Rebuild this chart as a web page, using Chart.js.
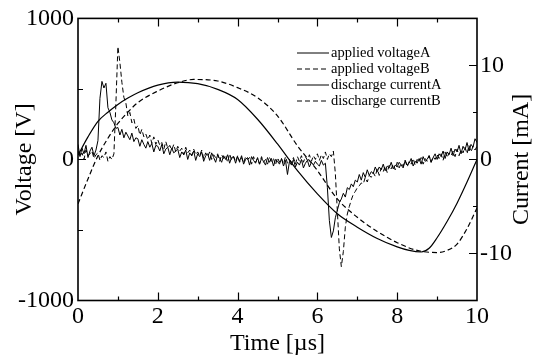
<!DOCTYPE html>
<html>
<head>
<meta charset="utf-8">
<script src="https://cdn.jsdelivr.net/npm/chart.js@4.4.1/dist/chart.umd.min.js"></script>
<style>
  body { margin: 0; background: #fff; }
</style>
</head>
<body>
<canvas id="myChart" width="543" height="359"></canvas>
<script>
// applied voltage, smooth curves [V]
const voltTimeA = [0, 0.25, 0.5, 0.75, 1, 1.25, 1.5, 2, 2.5, 3, 3.5, 4, 4.5, 5, 5.5, 6, 6.5, 7, 7.5, 8, 8.3, 8.6, 8.8, 9, 9.25, 9.5, 9.75, 10];
const voltageA = [30, 160, 270, 335, 390, 435, 473, 527, 548, 537, 497, 425, 285, 110, -80, -244, -385, -480, -560, -620, -645, -656, -630, -555, -440, -310, -160, 0];
const voltTimeB = [0, 0.25, 0.5, 0.75, 1, 1.25, 1.5, 2, 2.5, 2.9, 3.5, 4, 4.5, 5, 5.5, 6, 6.5, 7, 7.5, 8, 8.5, 9, 9.25, 9.5, 9.75, 10];
const voltageB = [-315, -138, 26, 150, 255, 335, 403, 485, 544, 567, 556, 509, 438, 309, 97, -79, -280, -410, -510, -590, -645, -660, -645, -600, -490, -345];

// discharge current [mA], sampled every 0.05 us from 0 to 10
const currentStep = 0.05;
const currentA = [
  1.6, 0.3, 1.2, 0.6, 1.5, 0.2, 0.9, 1.3, 0.4, 1.0,
  2.0, 6.5, 8.3, 7.6, 8.1, 5.5, 5.0, 4.2, 3.9, 3.3,
  3.4, 2.6, 3.2, 2.3, 2.9, 2.5, 2.1, 2.8, 1.9, 2.3,
  2.2, 1.4, 2.1, 1.6, 1.2, 1.9, 1.3, 1.7, 0.8, 1.5,
  1.4, 0.9, 1.6, 0.6, 1.1, 1.3, 0.5, 1.2, 0.7, 0.9,
  1.1, 0.2, 0.8, 0.5, 1.0, 0.0, 0.7, 0.4, 0.9, -0.1,
  0.6, 0.3, 0.8, -0.2, 0.4, 0.6, -0.1, 0.7, 0.2, -0.3,
  0.5, 0.1, -0.3, 0.4, 0.0, 0.5, -0.4, 0.2, 0.3, -0.4,
  0.3, -0.2, 0.4, -0.5, 0.0, 0.2, -0.6, 0.3, -0.1, -0.4,
  0.2, -0.5, 0.1, -0.2, -0.6, 0.2, -0.3, 0.1, -0.7, 0.0,
  -0.2, -0.5, 0.1, -0.7, -0.1, -1.6, -0.2, -0.6, 0.0, -0.8,
  -0.3, -0.6, 0.0, -0.9, -0.4, -0.1, -0.8, -0.3, -0.6, -0.2,
  -0.5, -0.7, -0.1, -0.6, -0.4, -3.0, -6.5, -8.3, -7.6, -6.2,
  -5.4, -4.6, -4.2, -3.6, -4.0, -3.0, -3.2, -2.6, -2.9, -2.2,
  -2.4, -1.6, -2.2, -1.4, -1.9, -1.1, -1.7, -1.3, -1.5, -0.8,
  -1.3, -0.8, -1.1, -0.5, -1.2, -0.7, -0.9, -0.3, -1.0, -0.6,
  -0.8, -0.3, -0.6, -0.9, -0.1, -0.6, -0.4, 0.1, -0.7, -0.2,
  -0.4, 0.1, -0.5, 0.3, -0.2, 0.0, 0.4, -0.3, 0.2, 0.6,
  0.0, 0.6, 0.3, 0.9, 0.1, 0.8, 0.5, 1.2, 0.4, 1.1,
  0.8, 1.5, 0.6, 1.4, 1.0, 1.8, 0.9, 1.6, 1.3, 2.2,
  1.8
];
const currentB = [
  0.9, 0.3, 0.7, 0.0, 1.0, 0.4, 0.6, 0.9, 0.1, 0.5,
  0.7, -0.1, 0.4, 0.2, 0.8, -0.2, 0.3, 0.0, 0.6, 6.0,
  12.0, 10.3, 8.2, 6.6, 6.0, 4.6, 5.0, 3.9, 4.3, 3.3,
  3.6, 2.6, 3.2, 2.4, 2.7, 2.1, 2.6, 1.7, 2.4, 1.6,
  2.1, 1.5, 1.8, 1.1, 1.9, 1.2, 1.5, 1.0, 1.6, 0.8,
  1.4, 0.9, 1.2, 0.5, 1.3, 0.7, 1.0, 0.4, 1.1, 0.5,
  0.8, 0.4, 1.0, 0.1, 0.7, 0.3, 0.8, 0.0, 0.5, 0.2,
  0.6, -0.2, 0.5, 0.1, 0.4, -0.3, 0.6, -0.1, 0.3, -0.2,
  0.4, -0.3, 0.2, -0.4, 0.3, 0.0, 0.2, -0.5, 0.3, -0.3,
  0.1, -0.5, 0.3, -0.3, 0.0, -0.5, 0.2, -0.2, 0.1, -0.6,
  0.2, -0.3, 0.1, -0.5, 0.3, -0.4, 0.0, -0.3, 0.2, -0.5,
  0.3, -0.2, 0.4, -0.3, 0.3, -0.1, 0.5, -0.2, 0.4, 0.0,
  0.6, -0.1, 0.5, 0.1, 0.8, 0.0, 0.6, 0.3, 0.9, -1.5,
  -5.5, -9.5, -11.4, -9.8, -7.2, -5.8, -5.0, -4.3, -3.7, -3.4,
  -3.0, -2.8, -2.5, -2.6, -1.9, -2.4, -1.7, -1.9, -1.4, -1.8,
  -1.0, -1.7, -0.9, -1.3, -0.7, -1.4, -0.6, -1.0, -0.5, -1.1,
  -0.3, -0.9, -0.4, -0.7, -0.1, -0.8, -0.2, -0.5, 0.1, -0.6,
  0.0, -0.3, 0.2, -0.5, 0.1, -0.2, 0.4, -0.3, 0.3, 0.0,
  0.5, 0.1, 0.6, -0.1, 0.8, 0.2, 0.7, 0.4, 0.9, 0.3,
  1.1, 0.4, 1.0, 0.7, 1.3, 0.6, 1.5, 0.8, 1.4, 1.0,
  1.4
];

const seriesLabels = ['applied voltageA', 'applied voltageB', 'discharge currentA', 'discharge currentB'];
const voltageTicks = [-1000, 0, 1000];
const currentTicks = [-10, 0, 10];
const timeMarks = [1, 2, 3, 4, 5, 6, 7, 8, 9];
const voltageMarks = [-500, 0, 500];
const currentMarks = [-10, -5, 0, 5, 10];

const serif = '"Liberation Serif", "Times New Roman", serif';
const dash = [5, 3];

function pairs(xs, ys) {
  return ys.map((y, i) => ({ x: xs[i], y: y }));
}
function sampled(ys) {
  return ys.map((y, i) => ({ x: +(i * currentStep).toFixed(2), y: y }));
}

// inward ticks, box, titles and the legend inside the plot
const framePlugin = {
  id: 'frame',
  afterDraw(chart) {
    const { ctx, chartArea: a, scales } = chart;
    ctx.save();
    ctx.strokeStyle = '#000';
    ctx.lineWidth = 1.2;
    ctx.beginPath();
    timeMarks.forEach(v => {
      const x = Math.round(scales.x.getPixelForValue(v)) + 0.5;
      const len = v % 2 === 0 ? 8 : 4;
      ctx.moveTo(x, a.bottom); ctx.lineTo(x, a.bottom - len);
      ctx.moveTo(x, a.top); ctx.lineTo(x, a.top + len);
    });
    voltageMarks.forEach(v => {
      const y = Math.round(scales.y.getPixelForValue(v)) + 0.5;
      const len = v % 1000 === 0 ? 8 : 5;
      ctx.moveTo(a.left, y); ctx.lineTo(a.left + len, y);
    });
    currentMarks.forEach(v => {
      const y = Math.round(scales.y1.getPixelForValue(v)) + 0.5;
      const len = v % 10 === 0 ? 8 : 4;
      ctx.moveTo(a.right, y); ctx.lineTo(a.right - len, y);
    });
    ctx.stroke();
    ctx.lineWidth = 1.6;
    ctx.strokeRect(a.left, a.top, a.right - a.left, a.bottom - a.top);

    // axis titles
    ctx.fillStyle = '#000';
    ctx.font = '24px ' + serif;
    ctx.textAlign = 'center';
    ctx.textBaseline = 'middle';
    const midY = (a.top + a.bottom) / 2;
    ctx.save();
    ctx.translate(25, midY);
    ctx.rotate(-Math.PI / 2);
    ctx.fillText('Voltage [V]', 0, 0);
    ctx.restore();
    ctx.save();
    ctx.translate(522, midY);
    ctx.rotate(-Math.PI / 2);
    ctx.fillText('Current [mA]', 0, 0);
    ctx.restore();
    ctx.textBaseline = 'alphabetic';
    ctx.fillText('Time [\u00b5s]', (a.left + a.right) / 2, 350);

    // legend
    ctx.font = '14.5px ' + serif;
    ctx.textAlign = 'left';
    ctx.textBaseline = 'middle';
    ctx.lineWidth = 1;
    chart.data.datasets.forEach((ds, i) => {
      const y = 53 + i * 16;
      ctx.setLineDash(ds.borderDash || []);
      ctx.beginPath();
      ctx.moveTo(297, y);
      ctx.lineTo(329, y);
      ctx.stroke();
      ctx.setLineDash([]);
      ctx.fillText(ds.label, 331, y);
    });
    ctx.restore();
  }
};

const ctx = document.getElementById('myChart');
const lineStyle = { borderColor: '#000', borderWidth: 1, pointRadius: 0, fill: false };

new Chart(ctx, {
  type: 'line',
  data: {
    datasets: [
      { ...lineStyle, label: seriesLabels[0], data: pairs(voltTimeA, voltageA), yAxisID: 'y', borderWidth: 1.2, cubicInterpolationMode: 'monotone' },
      { ...lineStyle, label: seriesLabels[1], data: pairs(voltTimeB, voltageB), yAxisID: 'y', borderWidth: 1.2, cubicInterpolationMode: 'monotone', borderDash: dash },
      { ...lineStyle, label: seriesLabels[2], data: sampled(currentA), yAxisID: 'y1', tension: 0 },
      { ...lineStyle, label: seriesLabels[3], data: sampled(currentB), yAxisID: 'y1', tension: 0, borderDash: dash }
    ]
  },
  options: {
    responsive: false,
    animation: false,
    devicePixelRatio: 1,
    layout: { padding: { top: 17, left: 0, right: 0, bottom: 0 } },
    plugins: { legend: { display: false }, tooltip: { enabled: false } },
    scales: {
      x: {
        type: 'linear',
        position: 'bottom',
        min: 0,
        max: 10,
        grid: { display: false, drawTicks: false },
        border: { display: false },
        ticks: { stepSize: 2, color: '#000', padding: 2, font: { family: serif, size: 24 }, maxRotation: 0,
          callback: v => String(v) },
        afterFit: s => { s.height = 58.5; }
      },
      y: {
        position: 'left',
        min: -1000,
        max: 1000,
        grid: { display: false, drawTicks: false },
        border: { display: false },
        ticks: { color: '#000', padding: 4, font: { family: serif, size: 24 }, callback: v => String(v) },
        afterBuildTicks: s => { s.ticks = voltageTicks.map(v => ({ value: v })); },
        afterFit: s => { s.width = 78; }
      },
      y1: {
        position: 'right',
        min: -15,
        max: 15,
        grid: { display: false, drawTicks: false },
        border: { display: false },
        ticks: { color: '#000', padding: 3, font: { family: serif, size: 24 }, callback: v => String(v) },
        afterBuildTicks: s => { s.ticks = currentTicks.map(v => ({ value: v })); },
        afterFit: s => { s.width = 66; }
      }
    }
  },
  plugins: [framePlugin]
});
</script>
</body>
</html>
